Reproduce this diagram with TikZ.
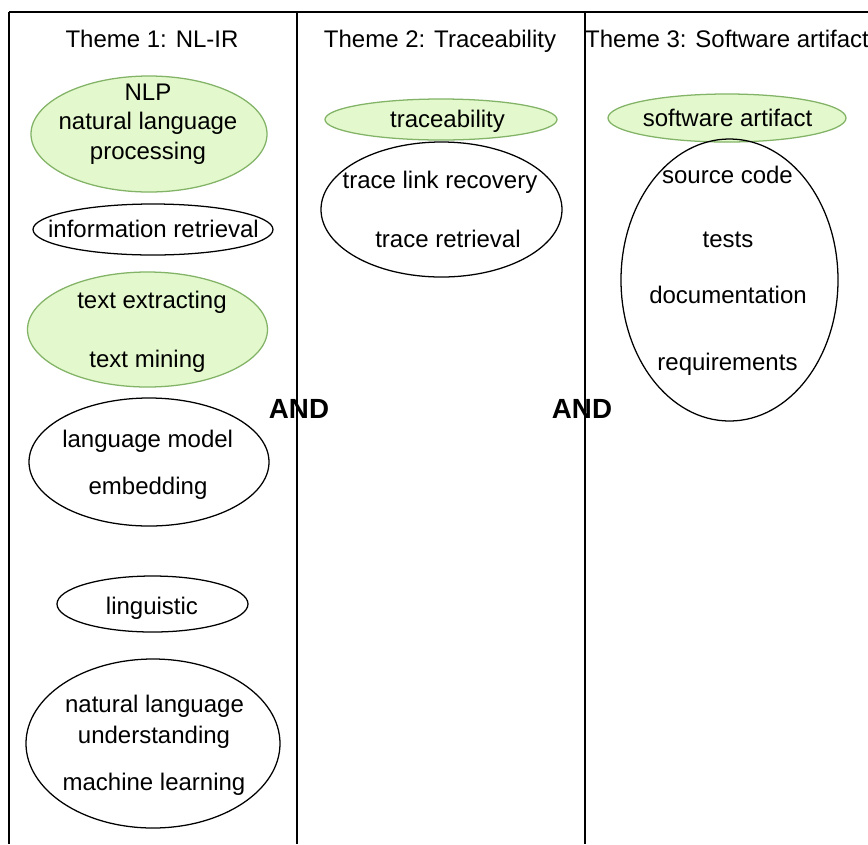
\documentclass[tikz,border=0pt]{standalone}
\usepackage{fontspec}
\setmainfont{Liberation Sans}
\usetikzlibrary{shapes.geometric}
\definecolor{gfill}{HTML}{E3F8CC}
\definecolor{gline}{HTML}{82B366}
\tikzset{
  frameline/.style={line width=1.1pt, black},
  oval/.style={ellipse, draw=black, line width=0.95pt, inner sep=0pt},
  goval/.style={ellipse, draw=gline, fill=gfill, line width=0.95pt, inner sep=0pt},
  lbl/.style={anchor=base, inner sep=0pt, font=\fontsize{18}{21}\selectfont},
  andlbl/.style={anchor=base, inner sep=0pt, font=\fontsize{20.8}{24}\selectfont\bfseries},
}
\begin{document}
\begin{tikzpicture}[x=0.75pt, y=-0.75pt]
\useasboundingbox (0,0) rectangle (868,844);
\fill[white] (0,0) rectangle (868,844);
% frame
\coordinate (tl) at (9,12);
\coordinate (tr) at (868,12);
\coordinate (bl) at (9,844);
\coordinate (m1t) at (297,12);
\coordinate (m1b) at (297,844);
\coordinate (m2t) at (585,12);
\coordinate (m2b) at (585,844);
\draw[frameline] (tl) -- (tr);
\draw[frameline] (tl) -- (bl);
\draw[frameline] (m1t) -- (m1b);
\draw[frameline] (m2t) -- (m2b);
% titles
\node[lbl] (t1) at (152,47) {Theme 1: NL-IR};
\node[lbl] (t2) at (440,47) {Theme 2: Traceability};
\node[lbl] (t3) at (727,47) {Theme 3: Software artifact};
% column 1 ellipses
\node[goval, minimum width=236*0.75pt, minimum height=116*0.75pt] (e1) at (149,134) {};
\node[oval, minimum width=240*0.75pt, minimum height=51*0.75pt] (e2) at (153,229.5) {};
\node[goval, minimum width=240*0.75pt, minimum height=115*0.75pt] (e3) at (147.5,329.5) {};
\node[oval, minimum width=240*0.75pt, minimum height=128*0.75pt] (e4) at (149,462) {};
\node[oval, minimum width=191*0.75pt, minimum height=56*0.75pt] (e5) at (152.5,604) {};
\node[oval, minimum width=254*0.75pt, minimum height=169*0.75pt] (e6) at (153,743.5) {};
% column 2 ellipses
\node[goval, minimum width=232*0.75pt, minimum height=41*0.75pt] (e7) at (441,119.5) {};
\node[oval, minimum width=241*0.75pt, minimum height=135*0.75pt] (e8) at (441.5,209.5) {};
% column 3 ellipses
\node[goval, minimum width=238*0.75pt, minimum height=48*0.75pt] (e9) at (727,118) {};
\node[oval, minimum width=217*0.75pt, minimum height=282*0.75pt] (e10) at (729.5,280) {};
% column 1 texts
\node[lbl] (a1) at (148,100) {NLP};
\node[lbl] (a2) at (148,129) {natural language};
\node[lbl] (a3) at (148,159) {processing};
\node[lbl] (b1) at (153.5,237) {information retrieval};
\node[lbl] (c1) at (152,308) {text extracting};
\node[lbl] (c2) at (147.5,367) {text mining};
\node[lbl] (d1) at (147.7,447) {language model};
\node[lbl] (d2) at (148,494) {embedding};
\node[lbl] (f1) at (152,614) {linguistic};
\node[lbl] (g1) at (154.5,712) {natural language};
\node[lbl] (g2) at (154,743) {understanding};
\node[lbl] (g3) at (154,790) {machine learning};
% column 2 texts
\node[lbl] (h1) at (447.5,127) {traceability};
\node[lbl] (i1) at (440,188) {trace link recovery};
\node[lbl] (i2) at (448,247) {trace retrieval};
% column 3 texts
\node[lbl] (j1) at (727.5,126) {software artifact};
\node[lbl] (k1) at (727.5,183) {source code};
\node[lbl] (k2) at (728,247) {tests};
\node[lbl] (k3) at (728,303) {documentation};
\node[lbl] (k4) at (727.5,370) {requirements};
% AND
\node[andlbl] (and1) at (299,418) {AND};
\node[andlbl] (and2) at (582,418) {AND};
\end{tikzpicture}
\end{document}
